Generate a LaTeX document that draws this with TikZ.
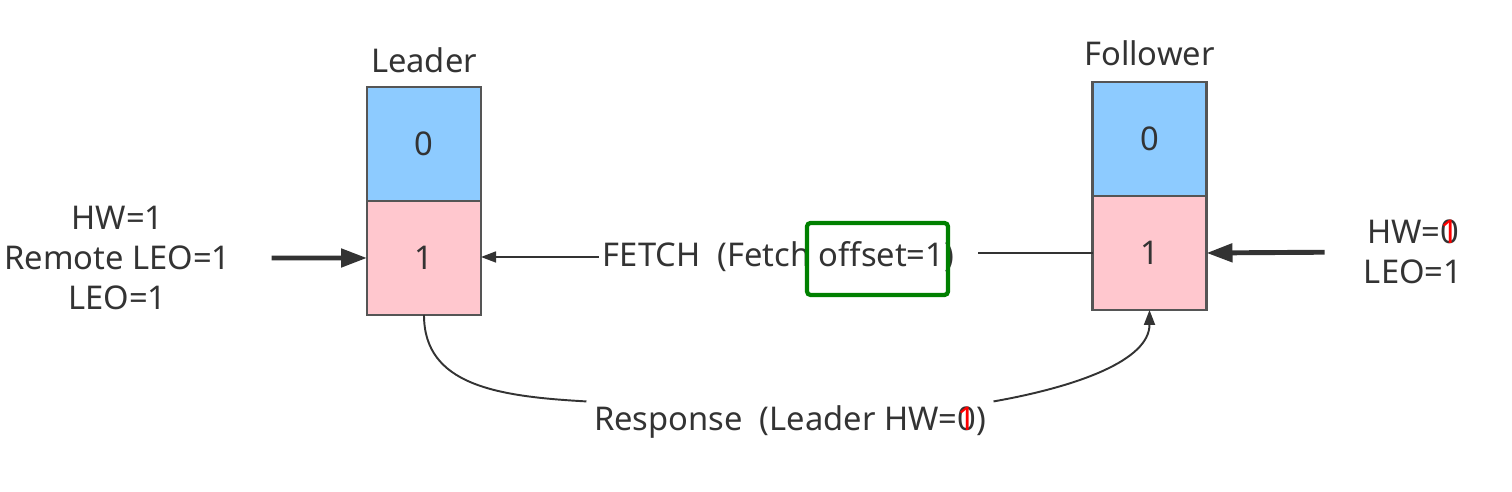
\documentclass[tikz,border=0pt]{standalone}
\usepackage{fontspec}
\setmainfont{Noto Sans}
\usetikzlibrary{positioning,arrows.meta}
\definecolor{blk0}{RGB}{141,203,255}
\definecolor{blk1}{RGB}{255,199,206}
\definecolor{edgegray}{RGB}{85,85,85}
\definecolor{ink}{RGB}{51,51,51}
\definecolor{hlgreen}{RGB}{0,128,0}

\begin{document}
\begin{tikzpicture}[font=\fontsize{9.3}{11.4}\selectfont, text=ink,
  every node/.style={inner sep=1pt},
  block/.style={rectangle, draw=edgegray, line width=0.6pt, outer sep=0pt, minimum width=1.14cm, minimum height=1.14cm},
  heavy/.style={draw=ink, line width=1.4pt, -{Triangle[length=0.26cm, width=0.18cm]}},
  slim/.style={draw=ink, line width=0.45pt, -{Triangle[length=0.15cm, width=0.11cm]}},
  curveline/.style={draw=ink, line width=0.55pt},
  curvearrow/.style={curveline, -{Triangle[length=0.15cm, width=0.11cm]}}]
  \useasboundingbox (0,0) rectangle (15.12,-4.92);
  \node [block, fill=blk0] (l0) at (4.24,-1.44) {0};
  \node [block, fill=blk1, below=0pt of l0] (l1) {1};
  \node [above=0.1cm of l0] (lead) {Leader};
  \node [block, fill=blk0] (f0) at (11.495,-1.39) {0};
  \node [block, fill=blk1, below=0pt of f0] (f1) {1};
  \node [above=0.12cm of f0] (foll) {Follower};
  \node [align=center] (lt) at (1.175,-2.58) {HW=1\\Remote LEO=1\\LEO=1};
  \node [align=center] (rt) at (14.13,-2.52) {HW=\rlap{0}{\color{red}\bfseries 1}\\LEO=1};
  \node (fetch) at (7.785,-2.57) {FETCH\ \ (Fetch offset=1)};
  \node [draw=hlgreen, line width=1.2pt, rounded corners=1pt, minimum width=1.41cm, minimum height=0.72cm] (hl) at (8.775,-2.59) {};
  \node (resp) at (7.9,-4.22) {Response\ \ (Leader HW=\rlap{0}{\color{red}\bfseries 1})};
  \draw [heavy, shorten <=0.37cm] (lt.east) -- (l1.west);
  \draw [slim] (fetch.west) -- (fetch.west -| l1.east);
  \draw [draw=ink, line width=0.45pt, shorten <=0.2cm] (fetch.east |- f1.west) -- (f1.west);
  \draw [heavy, shorten <=0.35cm] (rt.west) -- (f1.east);
  \draw [curveline] (l1.south) .. controls +(0,-0.7) and +(-0.9,0.05) .. ([xshift=-1pt]resp.north west);
  \draw [curvearrow] ([xshift=1pt]resp.north east) .. controls +(0.85,0.15) and +(0,-0.5) .. (f1.south);
\end{tikzpicture}
\end{document}
